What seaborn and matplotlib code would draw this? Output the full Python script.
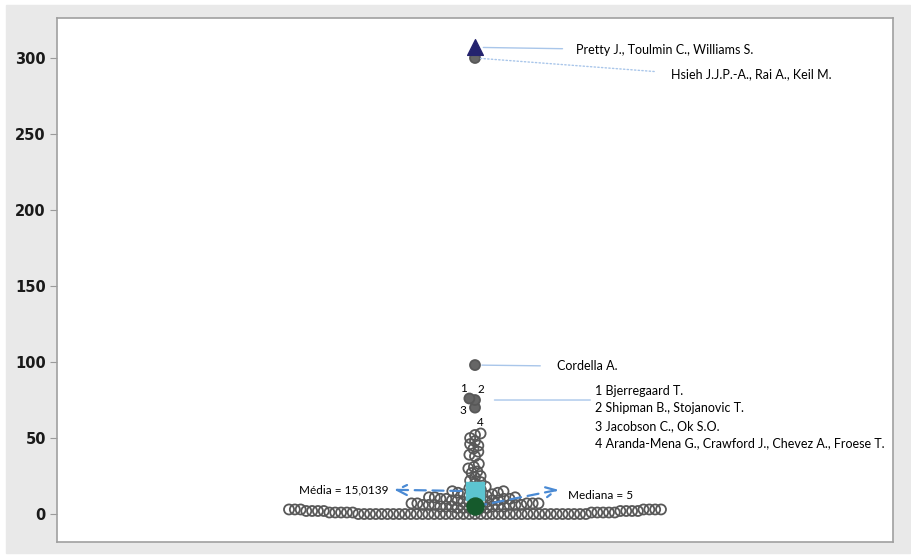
import numpy as np
import pandas as pd
import matplotlib.pyplot as plt
import matplotlib.patches as mpatches
import seaborn as sns

# citações por artigo: valor e quantas vezes aparece (n = 144)
valores = [0, 1, 2, 3, 4, 5, 6, 7, 8, 9, 10, 11, 12, 13, 14, 15, 16, 17, 18,
           20, 21, 22, 24, 25, 27, 28, 30, 31, 33,
           38, 39, 41, 43, 45, 46, 48, 50, 52, 53,
           70, 75, 76, 98, 300, 307]
contagem = [40, 10, 8, 7, 6, 6, 6, 5, 5, 4, 4, 3, 4, 2, 2, 2, 2, 1, 1,
            1, 1, 1, 1, 1, 1, 1, 1, 1, 1,
            1, 1, 1, 1, 1, 1, 1, 1, 1, 1,
            1, 1, 1, 1, 1, 1]
destaque = 307
rotulos = {307: 'Pretty J., Toulmin C., Williams S.',
           300: 'Hsieh J.J.P.-A., Rai A., Keil M.',
           98: 'Cordella A.'}
grupo_valores = [76, 75, 70, 53]
grupo_nomes = ['Bjerregaard T.', 'Shipman B., Stojanovic T.', 'Jacobson C., Ok S.O.',
               'Aranda-Mena G., Crawford J., Chevez A., Froese T.']
yticks = [0, 50, 100, 150, 200, 250, 300]

df = pd.DataFrame({'citacoes': np.repeat(valores, contagem)})
media = df['citacoes'].mean()
mediana = df['citacoes'].median()

azul = '#a9c6ea'
seta = '#4a8ad4'
fonte = ['Lato', 'DejaVu Sans']

fig = plt.figure(figsize=(9.12, 5.56), dpi=100, facecolor='white')
fig.patches.append(mpatches.Rectangle((6 / 912, 3 / 556), 904 / 912, 548 / 556,
                                      transform=fig.transFigure, color='#e9e9e9', zorder=-5))
ax = fig.add_axes([57 / 912, 14 / 556, 836 / 912, 524 / 556])
ax.set_facecolor('white')

# swarm calculado com marcadores pequenos, depois desenhado maior (sobreposição como no JMP)
sns.swarmplot(data=df[df['citacoes'] != destaque], y='citacoes', ax=ax, size=4,
              color='white', linewidth=0, zorder=2)
sns.scatterplot(x=[0], y=[destaque], marker='^', s=130, color='#24236e',
                edgecolor='#24236e', ax=ax, zorder=4)
ax.scatter([0], [media], marker='s', s=170, color='#5cc4d0', zorder=4)
ax.scatter([0], [mediana], marker='o', s=150, color='#155a2c', zorder=4)

ax.set_xlim(-0.5, 0.5)
ax.set_ylim(-18.4, 326.3)
ax.set_xticks([])
ax.set_yticks(yticks)
ax.set_yticklabels([str(t) for t in yticks], fontsize=10.5, fontweight='bold',
                   color='#1a1a1a', family='DejaVu Sans')
ax.tick_params(axis='y', length=5, color='#9a9a9a', pad=3)
ax.set_xlabel('')
ax.set_ylabel('')
for s in ax.spines.values():
    s.set_color('#a0a0a0')
    s.set_linewidth(1.2)

pts = ax.collections[0]
fig.canvas.draw()
del pts.draw
pts.set_sizes([7.2 ** 2])
pts.set_linewidth(1.3)
pts.set_edgecolor('#585858')
xy = pts.get_offsets()
cores = np.zeros((len(xy), 4))


def ponto(v):
    i = int(np.argmin(np.abs(xy[:, 1] - v)))
    return i, (xy[i, 0], xy[i, 1])


for v in [300, 98] + grupo_valores[:3]:
    i, _ = ponto(v)
    cores[i] = [0.4, 0.4, 0.4, 1]
pts.set_facecolors(cores)

# rótulos com linhas guia
ax.annotate(rotulos[307], xy=(0, destaque), xytext=(73, -2), textcoords='offset points',
            va='center', ha='left', fontsize=9, family=fonte,
            arrowprops=dict(arrowstyle='-', color=azul, lw=1, shrinkA=8, shrinkB=6,
                            relpos=(0, 0.6)))
ax.annotate(rotulos[300], xy=(0, 300), xytext=(141, -11.5), textcoords='offset points',
            va='center', ha='left', fontsize=9, family=fonte,
            arrowprops=dict(arrowstyle='-', color=azul, lw=1, ls=':', shrinkA=10,
                            shrinkB=4, relpos=(0, 0.6)))
ax.annotate(rotulos[98], xy=(0, 98), xytext=(59, -0.7), textcoords='offset points',
            va='center', ha='left', fontsize=9, family=fonte,
            arrowprops=dict(arrowstyle='-', color=azul, lw=1, shrinkA=10, shrinkB=5,
                            relpos=(0, 0.5)))

ax.annotate('', xy=(0, grupo_valores[1]), xytext=(83, 0), textcoords='offset points',
            arrowprops=dict(arrowstyle='-', color=azul, lw=1, shrinkA=0, shrinkB=14))
texto = '\n'.join(f'{k + 1} {n}' for k, n in enumerate(grupo_nomes))
ax.annotate(texto, xy=(0, grupo_valores[1]), xytext=(86.5, 11), textcoords='offset points',
            va='top', ha='left', fontsize=9, family=fonte, linespacing=1.55)
numeros = [(-4, 7), (4, 7.5), (-9, -2), (0, 8)]
for k, v in enumerate(grupo_valores):
    _, p = ponto(v)
    ax.annotate(str(k + 1), xy=p, xytext=numeros[k], textcoords='offset points',
                ha='center', va='center', fontsize=8.5, family=fonte)

# média e mediana
ax.annotate('', xy=(0, media), xytext=(-58, 1), textcoords='offset points',
            arrowprops=dict(arrowstyle='<-', color=seta, lw=1.6, ls=(0, (5, 3)),
                            mutation_scale=18, shrinkA=0, shrinkB=4))
ax.annotate(f'Média = {media:.4f}'.replace('.', ','), xy=(0, media), xytext=(-62, 1),
            textcoords='offset points', ha='right', va='center', fontsize=8.5, family=fonte)
ax.annotate('', xy=(0, mediana), xytext=(60, 12), textcoords='offset points',
            arrowprops=dict(arrowstyle='<-', color=seta, lw=1.6, ls=(0, (5, 3)),
                            mutation_scale=18, shrinkA=0, shrinkB=6))
ax.annotate(f'Mediana = {mediana:g}', xy=(0, mediana), xytext=(67, 8),
            textcoords='offset points', ha='left', va='center', fontsize=8.5, family=fonte)

fig.savefig('out.png', dpi=100, facecolor=fig.get_facecolor())
